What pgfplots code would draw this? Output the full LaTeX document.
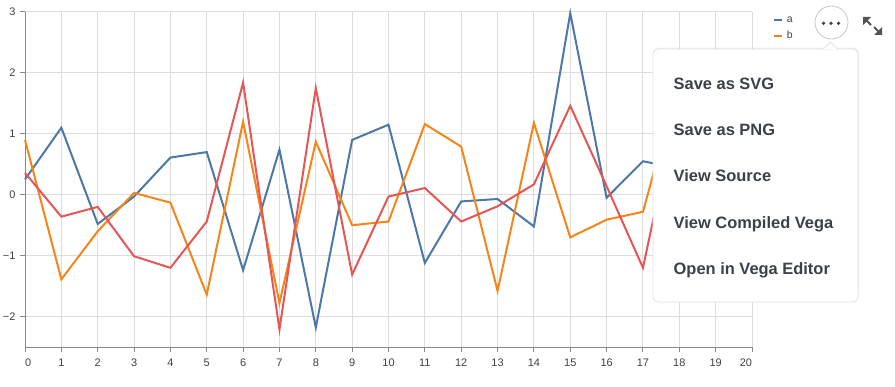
\documentclass[border=0pt]{standalone}
\usepackage{pgfplots}
\pgfplotsset{compat=1.18}
\usepackage{fontspec}
\setmainfont{Liberation Sans}
\usetikzlibrary{shadows}
\definecolor{ca}{HTML}{4C78A8}
\definecolor{cb}{HTML}{F58518}
\definecolor{cc}{HTML}{E45756}
\definecolor{gridc}{HTML}{DDDDDD}
\definecolor{axisc}{HTML}{888888}
\definecolor{labc}{HTML}{404040}
\definecolor{menutext}{HTML}{3C4049}
\definecolor{menuborder}{HTML}{E2E2E2}
\begin{document}
\begin{tikzpicture}[x=1bp,y=1bp]
\useasboundingbox (0,0) rectangle (895,386);
\begin{axis}[
  at={(25bp,39bp)}, anchor=south west,
  scale only axis, width=727bp, height=335bp,
  xmin=0, xmax=20, ymin=-2.5, ymax=3,
  axis x line*=bottom, axis y line*=left,
  axis line style={color=axisc, line width=1bp},
  xtick={0,...,20}, ytick={-2,-1,0,1,2,3},
  xticklabels={\makebox[0pt][l]{0},1,2,3,4,5,6,7,8,9,10,11,12,13,14,15,16,17,18,19,\makebox[0pt][r]{20}},
  yticklabels={−2,−1,0,1,2,3},
  grid=major,
  major grid style={color=gridc, line width=1bp},
  tick align=outside, major tick length=5bp,
  tick style={color=axisc, line width=1bp},
  every tick label/.append style={font=\fontsize{11}{13}\selectfont, text=labc},
  xticklabel style={yshift=-3bp},
  yticklabel style={xshift=-1bp},
  clip=false,
  legend style={at={(1.0285,0.994)}, anchor=north west, draw=none, fill=none,
    font=\fontsize{10.5}{10.5}\selectfont, text=labc, row sep=5bp, inner sep=0pt,
    nodes={inner sep=1bp, text height=7.5bp, text depth=1.5bp},
    /tikz/every odd column/.append style={column sep=0bp}},
  legend cell align=left,
  legend image code/.code={\draw[#1, line width=2bp] (0bp,0bp) -- (8bp,0bp);},
]
\addplot[ca, line width=2bp] coordinates {(0,0.25) (1,1.10) (2,-0.48) (3,-0.03) (4,0.61) (5,0.70) (6,-1.24) (7,0.74) (8,-2.18) (9,0.90) (10,1.15) (11,-1.12) (12,-0.11) (13,-0.07) (14,-0.52) (15,2.98) (16,-0.05) (17,0.55) (18,0.43) (19,-0.40) (20,0.60)};
\addlegendentry{\hspace{3bp}a}
\addplot[cb, line width=2bp] coordinates {(0,0.90) (1,-1.39) (2,-0.60) (3,0.03) (4,-0.13) (5,-1.64) (6,1.20) (7,-1.78) (8,0.87) (9,-0.50) (10,-0.44) (11,1.16) (12,0.79) (13,-1.58) (14,1.18) (15,-0.70) (16,-0.41) (17,-0.28) (18,1.90) (19,0.30) (20,-0.60)};
\addlegendentry{\hspace{3bp}b}
\addplot[cc, line width=2bp, forget plot] coordinates {(0,0.36) (1,-0.36) (2,-0.20) (3,-1.01) (4,-1.20) (5,-0.44) (6,1.84) (7,-2.21) (8,1.75) (9,-1.31) (10,-0.03) (11,0.11) (12,-0.44) (13,-0.19) (14,0.17) (15,1.46) (16,0.14) (17,-1.20) (18,1.60) (19,-0.50) (20,0.80)};
\end{axis}
\begin{scope}[shift={(0,386)}, yscale=-1]
  % menu
  \filldraw[draw=menuborder, fill=white, line width=0.8bp, rounded corners=5bp,
    drop shadow={shadow xshift=1bp, shadow yshift=1.5bp, opacity=0.12}]
    (653,49) rectangle (858,302);
  \filldraw[draw=menuborder, fill=white, line width=0.8bp] (823,49.4) -- (830.5,42) -- (838,49.4);
  \fill[white] (823.5,49.8) rectangle (837.5,51);
  \foreach \t/\yy in {Save as SVG/89, Save as PNG/135, View Source/181, View Compiled Vega/228, Open in Vega Editor/274}{
    \node[anchor=base west, inner sep=0pt, text=menutext, font=\bfseries\fontsize{16.5}{16.5}\selectfont] at (673.5,\yy) {\t};
  }
  % button
  \filldraw[draw=gridc!90!black, fill=white, line width=0.8bp] (831.5,22.5) circle (16.5);
  \foreach \xx in {823.5,831,838.5} \fill[labc] (\xx,23.3) circle (1.8);
  % expand icon
  \fill[labc!90] (863,17) -- (871,17) -- (863,25) -- cycle;
  \draw[labc!90, line width=2bp] (865,19) -- (871,25);
  \fill[labc!90] (882,35) -- (874,35) -- (882,27) -- cycle;
  \draw[labc!90, line width=2bp] (880,33) -- (874,27);
\end{scope}
\end{tikzpicture}
\end{document}
